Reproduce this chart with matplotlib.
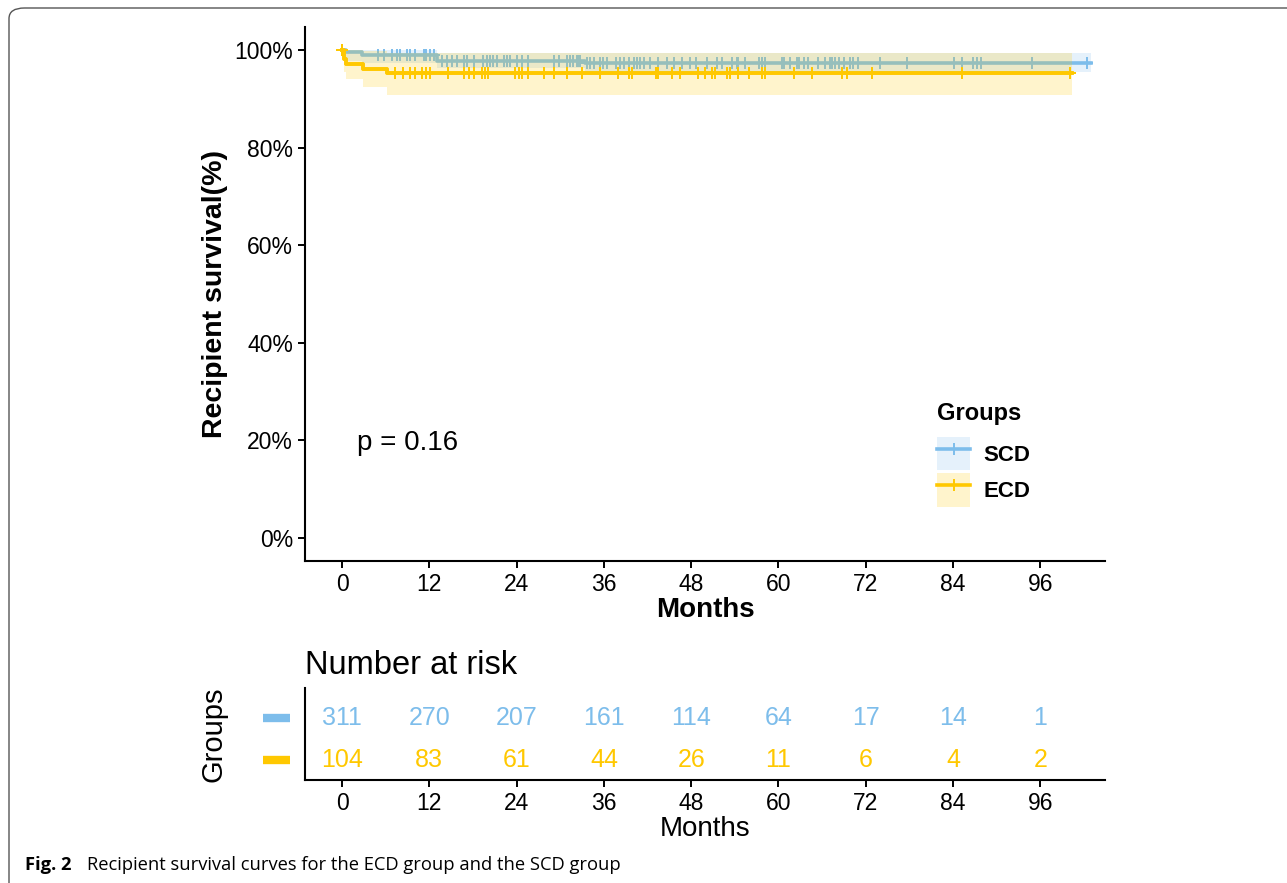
import matplotlib
matplotlib.use("Agg")
from matplotlib import pyplot as plt
from matplotlib.patches import Patch, FancyBboxPatch
from matplotlib.lines import Line2D
import numpy as np

plt.rcParams["font.family"] = ["Liberation Sans", "DejaVu Sans"]

BLUE = "#7dbdeb"
YELLOW = "#ffc800"
groups = ["SCD", "ECD"]

# step curves (months, survival %)
scd_times = [0, 0.5, 2.8, 13.0, 33.4, 103.0]
scd_surv = [100, 99.5, 99.0, 97.8, 97.3, 97.3]
scd_lower = [100, 97.8, 97.3, 96.2, 95.5, 95.5]
scd_upper = [100, 100, 99.9, 99.4, 99.3, 99.3]

ecd_times = [0, 0.3, 0.6, 2.9, 6.2, 100.4]
ecd_surv = [100, 98.1, 97.1, 96.1, 95.2, 95.2]
ecd_lower = [100, 95.5, 94.0, 92.5, 90.8, 90.8]
ecd_upper = [100, 100, 100, 99.7, 99.3, 99.3]

# censoring times (months)
scd_cens = [0, 5.0, 5.7, 6.8, 7.5, 8.0, 8.9, 9.4, 10.0, 11.2, 11.4, 11.6, 12.1, 12.6,
            13.7, 14.4, 15.1, 15.8, 16.7, 17.2, 18.1, 19.4, 19.9, 20.4, 20.8, 21.3,
            22.2, 22.7, 23.1, 24.0, 24.7, 25.6, 29.1, 29.8, 30.9, 31.4, 31.8, 32.3,
            32.5, 32.7, 33.7, 34.1, 34.6, 35.5, 35.9, 36.4, 37.6, 38.2, 38.7, 39.4,
            40.1, 40.5, 41.0, 41.5, 42.4, 43.5, 44.7, 45.6, 46.7, 47.9, 48.6, 50.2,
            51.5, 52.2, 53.6, 54.3, 54.5, 55.4, 57.3, 57.7, 58.2, 60.5, 60.7, 61.6,
            62.5, 62.8, 63.5, 64.1, 65.5, 66.4, 67.1, 67.4, 67.8, 68.3, 69.0, 69.9,
            70.3, 71.0, 74.0, 77.7, 84.1, 85.2, 86.8, 87.3, 87.8, 94.9, 102.4]
ecd_cens = [0, 7.3, 8.4, 9.4, 10.0, 11.0, 11.6, 12.1, 14.6, 16.7, 17.4, 18.1, 19.2,
            19.7, 20.1, 23.8, 24.3, 24.7, 25.6, 27.7, 29.1, 30.9, 33.0, 35.5, 38.0,
            39.4, 39.8, 43.1, 43.5, 45.3, 46.5, 49.0, 49.9, 50.8, 51.3, 52.9, 53.4,
            54.5, 55.9, 57.7, 58.2, 62.1, 64.6, 68.7, 69.4, 72.9, 85.2, 100.1]

risk_times = [0, 12, 24, 36, 48, 60, 72, 84, 96]
scd_risk = [311, 270, 207, 161, 114, 64, 17, 14, 1]
ecd_risk = [104, 83, 61, 44, 26, 11, 6, 4, 2]


def surv_at(t, times, surv):
    idx = np.searchsorted(times, t, side="right") - 1
    return np.array(surv)[idx]


fig = plt.figure(figsize=(12.87, 8.83), dpi=100)

# rounded frame of the figure panel
frame = FancyBboxPatch((9 / 1287, -0.05), 1.2, 1.05 - 8 / 883,
                       boxstyle="round,pad=0,rounding_size=0.012",
                       transform=fig.transFigure, fill=False,
                       edgecolor="#555555", lw=1.0)
fig.patches.append(frame)

ax = fig.add_axes([305 / 1287, 1 - 561 / 883, 800 / 1287, 534 / 883])

series = [(scd_times, scd_surv, scd_lower, scd_upper, scd_cens, BLUE),
          (ecd_times, ecd_surv, ecd_lower, ecd_upper, ecd_cens, YELLOW)]

for times, surv, lo, up, cens, col in series:
    ax.step(times, surv, where="post", color=col, lw=2.6, zorder=2)
    ax.plot(cens, surv_at(cens, times, surv), ls="none", marker="+", ms=9,
            mew=1.4, color=col, zorder=2)
for times, surv, lo, up, cens, col in series:
    ax.fill_between(times, lo, up, step="post", color=col, alpha=0.2, lw=0, zorder=3)
# ECD line shows on top of the bands
ax.step(ecd_times, ecd_surv, where="post", color=YELLOW, lw=2.6, zorder=4)
ax.plot(ecd_cens, surv_at(ecd_cens, ecd_times, ecd_surv), ls="none", marker="+",
        ms=9, mew=1.4, color=YELLOW, zorder=4)

ax.set_xlim(-5.1, 104.9)
ax.set_ylim(-4.7, 104.7)
ax.set_xticks(risk_times)
ax.set_yticks([0, 20, 40, 60, 80, 100])
ax.set_yticklabels(["0%", "20%", "40%", "60%", "80%", "100%"])
ax.tick_params(labelsize=16.5, length=5, width=1.4, color="black")
for s in ["top", "right"]:
    ax.spines[s].set_visible(False)
for s in ["left", "bottom"]:
    ax.spines[s].set_linewidth(1.5)
ax.set_xlabel("Months", fontsize=20, fontweight="bold", labelpad=1)
ax.set_ylabel("Recipient survival(%)", fontsize=20.5, fontweight="bold", labelpad=5)
ax.text(2.1, 19.5, "p = 0.16", fontsize=20, va="center", ha="left")

# legend: title as separate text, handles as band patch + line
ax.text(0.79, 0.277, "Groups", transform=ax.transAxes, fontsize=17,
        fontweight="bold", ha="left", va="center")
handles = [(Patch(facecolor=c, alpha=0.2, lw=0),
            Line2D([], [], color=c, lw=2.6, marker="+", ms=8, mew=1.4))
           for c in [BLUE, YELLOW]]
leg = ax.legend(handles, groups, loc="upper left", bbox_to_anchor=(0.79, 0.232),
                borderaxespad=0, borderpad=0, frameon=False, fontsize=16,
                handlelength=1.5, handleheight=1.91, handletextpad=0.6,
                labelspacing=0.15)
for t in leg.get_texts():
    t.set_fontweight("bold")

# number at risk table
rax = fig.add_axes([305 / 1287, 1 - 780 / 883, 800 / 1287, 92 / 883])
rax.set_xlim(-5.1, 104.9)
rax.set_ylim(0.524, 2.714)
for t, n in zip(risk_times, scd_risk):
    rax.text(t, 2, str(n), color=BLUE, fontsize=18, ha="center", va="center")
for t, n in zip(risk_times, ecd_risk):
    rax.text(t, 1, str(n), color=YELLOW, fontsize=18, ha="center", va="center")
trans = rax.get_yaxis_transform()
for yv, col in [(2, BLUE), (1, YELLOW)]:
    rax.plot([-0.052, -0.019], [yv, yv], color=col, lw=6, transform=trans,
             clip_on=False, solid_capstyle="butt")
rax.set_xticks(risk_times)
rax.set_yticks([])
rax.tick_params(labelsize=16.5, length=5, width=1.4)
for s in ["top", "right"]:
    rax.spines[s].set_visible(False)
for s in ["left", "bottom"]:
    rax.spines[s].set_linewidth(1.5)
rax.set_xlabel("Months", fontsize=20, labelpad=1)
rax.set_ylabel("Groups", fontsize=21, labelpad=56)
rax.set_title("Number at risk", fontsize=23.5, loc="left", pad=10)

fig.text(25 / 1287, 1 - 865 / 883, "Fig. 2", fontsize=13.2, fontweight="bold",
         family=["Open Sans", "DejaVu Sans"], va="center", ha="left")
fig.text(87 / 1287, 1 - 865 / 883,
         "Recipient survival curves for the ECD group and the SCD group",
         fontsize=13.2, family=["Open Sans", "DejaVu Sans"], va="center", ha="left")

plt.savefig("out.png", dpi=100)
plt.close()
